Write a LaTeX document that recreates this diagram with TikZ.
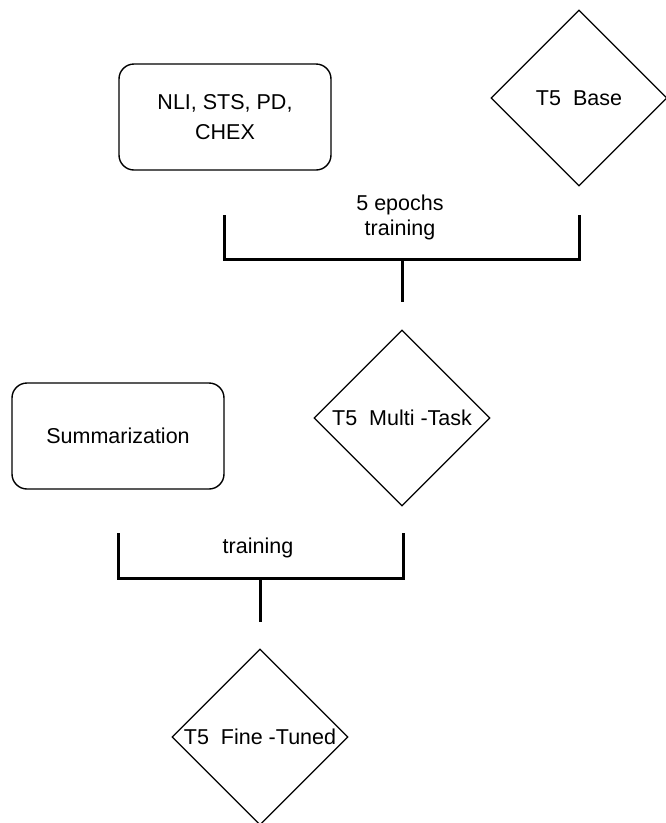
\documentclass[tikz,border=0pt]{standalone}
\usepackage{fontspec}
\setmainfont{Liberation Sans}
\usetikzlibrary{positioning}
\usetikzlibrary{shapes.geometric}

\tikzset{
  taskbox/.style={draw, rounded corners=15pt, line width=1.4pt, minimum width=212pt, minimum height=106pt, inner sep=0pt, align=center},
  model/.style={draw, diamond, aspect=1, line width=1.2pt, minimum width=176pt, minimum height=176pt, inner sep=0pt},
  joint/.style={line width=3pt},
}

\begin{document}
\begin{tikzpicture}[x=1pt, y=-1pt, font=\fontsize{21.5}{30}\selectfont]
\useasboundingbox (0,0) rectangle (665,823);

\node[taskbox] (data) at (225,117) {NLI, STS, PD,\\CHEX};
\node[model, label=center:T5~~Base] (base) at (579,98) {};
\node[model, label=center:T5~~Multi -Task] (multi) at (402,418) {};
\node[taskbox] (summ) at (118,436) {Summarization};
\node[model, label=center:T5~~Fine -Tuned] (fine) at (260,737) {};

% first training step
\coordinate (l1) at (224,215);
\coordinate (r1) at (579,215);
\coordinate (j1) at (402,259);
\coordinate[below=43pt of j1] (s1);
\node[align=center, font=\fontsize{21.5}{25}\selectfont] (ep) at (400,217) {5 epochs\\training};
\draw[joint] (l1) |- (j1) -| (r1);
\draw[joint] (j1) -- (s1);

% second training step
\coordinate (l2) at (118,533);
\coordinate (r2) at (403,533);
\coordinate (j2) at (260,578);
\coordinate[below=44pt of j2] (s2);
\node (tr) at (258,548) {training};
\draw[joint] (l2) |- (j2) -| (r2);
\draw[joint] (j2) -- (s2);
\end{tikzpicture}
\end{document}
